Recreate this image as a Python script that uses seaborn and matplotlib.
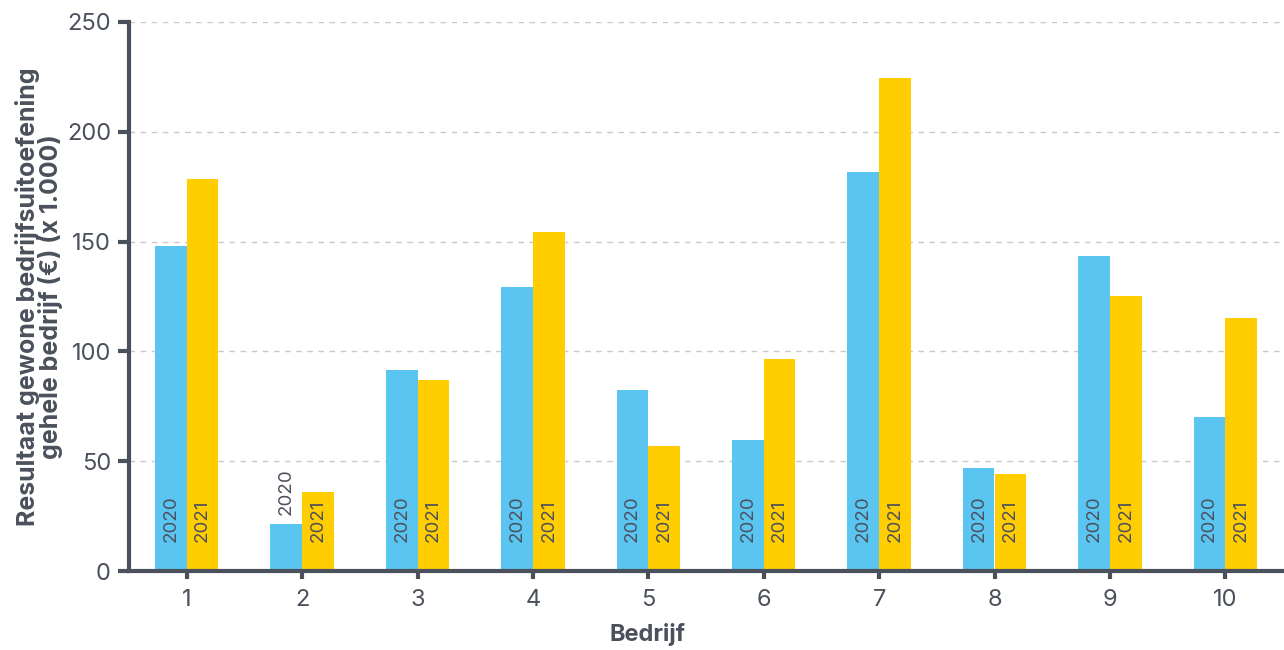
import matplotlib
matplotlib.use("Agg")
import matplotlib.pyplot as plt
import seaborn as sns
import pandas as pd

companies = ["1", "2", "3", "4", "5", "6", "7", "8", "9", "10"]
values_2020 = [148, 21.5, 91.5, 129.3, 82.4, 59.7, 181.7, 46.9, 143.4, 70.1]
values_2021 = [178.5, 36, 87, 154.4, 56.9, 96.5, 224.5, 44.2, 125.2, 115.2]
years = ["2020", "2021"]
colors = ["#5BC5F2", "#FFCD00"]
yticks = [0, 50, 100, 150, 200, 250]

df = pd.DataFrame({
    "Bedrijf": companies * 2,
    "Jaar": [years[0]] * len(companies) + [years[1]] * len(companies),
    "Waarde": values_2020 + values_2021,
})

sns.set_theme(style="white")
plt.rcParams["font.family"] = ["Inter", "DejaVu Sans"]
text_color = "#4B515C"

fig, ax = plt.subplots(figsize=(12.84, 6.5), dpi=100)
fig.subplots_adjust(left=129 / 1284, right=1283 / 1284, bottom=(650 - 571) / 650, top=(650 - 22) / 650)

sns.barplot(data=df, x="Bedrijf", y="Waarde", hue="Jaar", order=companies,
            hue_order=years, palette=colors, width=0.55, saturation=1,
            linewidth=0, ax=ax, legend=False, zorder=3)

ax.set_ylim(0, 250)
ax.set_xlim(-0.5, 9.5)
ax.set_yticks(yticks)
ax.yaxis.grid(True, linestyle=(0, (4, 4)), color="#C9C9C9", linewidth=1, zorder=0)
ax.xaxis.grid(False)

for s in ["top", "right"]:
    ax.spines[s].set_visible(False)
for s in ["left", "bottom"]:
    ax.spines[s].set_color(text_color)
    ax.spines[s].set_linewidth(3)
    ax.spines[s].set_zorder(5)

ax.tick_params(axis="y", direction="out", length=8, width=3, color=text_color,
               labelsize=17, labelcolor=text_color, pad=5, left=True)
ax.tick_params(axis="x", direction="out", length=6, width=3, color=text_color,
               labelsize=17, labelcolor=text_color, pad=7, bottom=True)

ax.set_xlabel("Bedrijf", fontsize=17, fontweight="bold", color=text_color)
ax.xaxis.set_label_coords((648 - 129) / 1155, -0.095)
ax.set_ylabel("Resultaat gewone bedrijfsuitoefening\ngehele bedrijf (€) (x 1.000)",
              fontsize=18, fontweight="bold", color=text_color, linespacing=0.92)
ax.yaxis.set_label_coords((63 - 129) / 1155, 0.5)

for container, year in zip(ax.containers, years):
    for bar in container:
        h = bar.get_height()
        xc = bar.get_x() + bar.get_width() / 2
        if h >= 30:
            ax.annotate(year, (xc, 0), xytext=(0, 21), textcoords="offset points",
                        rotation=90, ha="center", va="bottom", fontsize=13.5,
                        color=text_color, zorder=6)
        else:
            ax.annotate(year, (xc, h), xytext=(0, 6), textcoords="offset points",
                        rotation=90, ha="center", va="bottom", fontsize=13.5,
                        color=text_color, zorder=6)

fig.savefig("out.png", dpi=100)
